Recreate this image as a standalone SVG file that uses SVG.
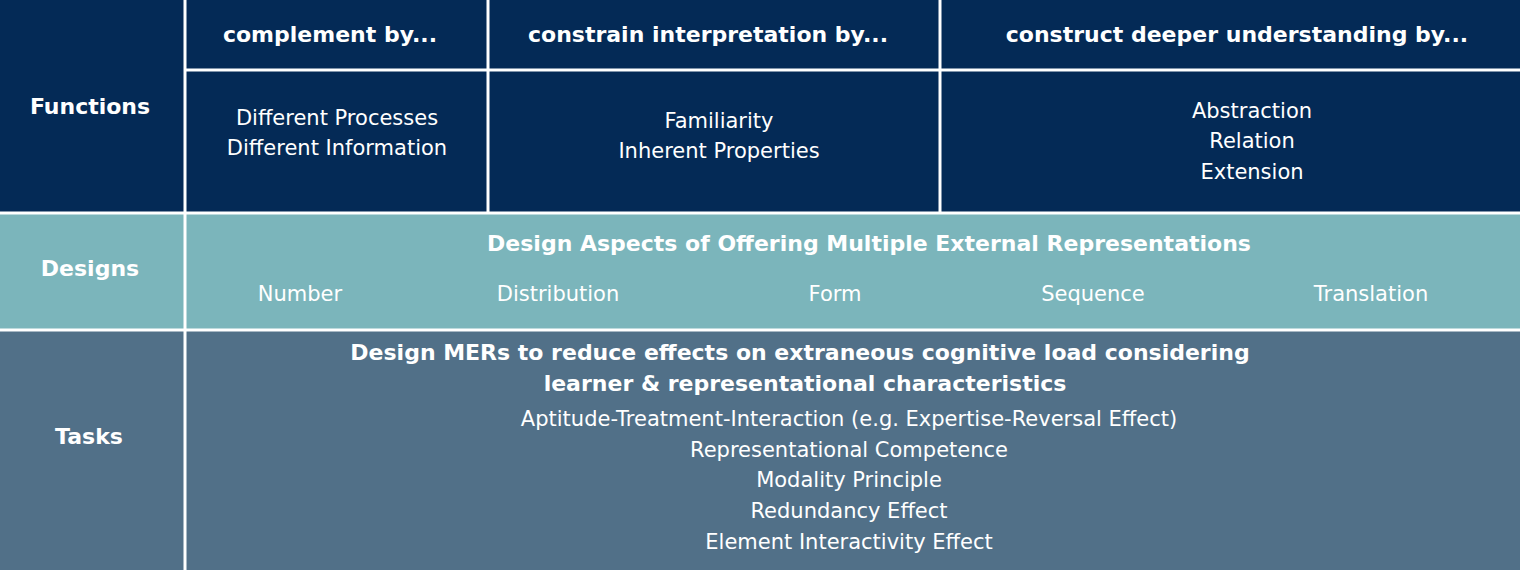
<svg xmlns="http://www.w3.org/2000/svg" width="1520" height="570" viewBox="0 0 1520 570">
<style>
text{font-family:"DejaVu Sans","Verdana",sans-serif;fill:#fff;text-anchor:middle;font-size:21px}
.b{font-weight:bold;font-size:22px}
.l{stroke:#fff;stroke-width:3}
</style>
<g id="functions">
<rect x="0" y="0" width="1520" height="213" fill="#042a56"/>
<text class="b" x="90" y="114">Functions</text>
<text class="b" x="330" y="42">complement by...</text>
<text class="b" x="708" y="42">constrain interpretation by...</text>
<text class="b" x="1237" y="42">construct deeper understanding by...</text>
<text x="337" y="125">Different Processes</text>
<text x="337" y="155">Different Information</text>
<text x="719" y="128">Familiarity</text>
<text x="719" y="158">Inherent Properties</text>
<text x="1252" y="118">Abstraction</text>
<text x="1252" y="148">Relation</text>
<text x="1252" y="179">Extension</text>
</g>
<g id="designs">
<rect x="0" y="213" width="1520" height="117" fill="#7bb5bb"/>
<text class="b" x="90" y="276">Designs</text>
<text class="b" x="869" y="251">Design Aspects of Offering Multiple External Representations</text>
<text x="300" y="301">Number</text>
<text x="558" y="301">Distribution</text>
<text x="835" y="301">Form</text>
<text x="1093" y="301">Sequence</text>
<text x="1371" y="301">Translation</text>
</g>
<g id="tasks">
<rect x="0" y="330" width="1520" height="240" fill="#517088"/>
<text class="b" x="89" y="444">Tasks</text>
<text class="b" x="800" y="360">Design MERs to reduce effects on extraneous cognitive load considering</text>
<text class="b" x="805" y="391">learner &amp; representational characteristics</text>
<text x="849" y="426">Aptitude-Treatment-Interaction (e.g. Expertise-Reversal Effect)</text>
<text x="849" y="457">Representational Competence</text>
<text x="849" y="487">Modality Principle</text>
<text x="849" y="518">Redundancy Effect</text>
<text x="849" y="549">Element Interactivity Effect</text>
</g>
<g id="connectors">
<line class="l" x1="185" y1="0" x2="185" y2="570"/>
<line class="l" x1="185" y1="70" x2="1520" y2="70"/>
<line class="l" x1="488" y1="0" x2="488" y2="213"/>
<line class="l" x1="940" y1="0" x2="940" y2="213"/>
<line class="l" x1="0" y1="213" x2="1520" y2="213"/>
<line class="l" x1="0" y1="330" x2="1520" y2="330"/>
</g>
</svg>
